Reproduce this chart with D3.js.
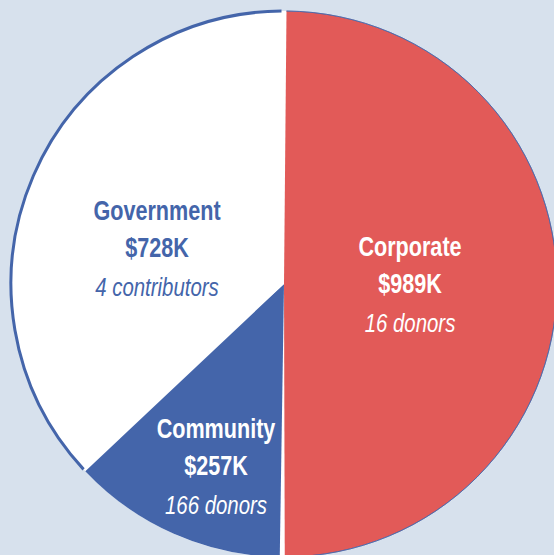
<!DOCTYPE html>
<html>
<head>
<meta charset="utf-8">
<script src="https://cdn.jsdelivr.net/npm/d3@7"></script>
<style>
  html, body { margin: 0; padding: 0; background: #d7e1ed; }
  svg { display: block; }
  text { font-family: "Liberation Sans", Arial, sans-serif; }
</style>
</head>
<body>
<svg id="chart" width="554" height="555"></svg>
<script>
// ---- data ----
const categories = ["Corporate", "Community", "Government"];
const amountsK = [989, 257, 728];
const contributorCounts = [16, 166, 4];
const contributorWords = ["donors", "donors", "contributors"];

// ---- styles ----
const fills = { Corporate: "#e25a58", Community: "#4465aa", Government: "#ffffff" };
const textColors = { Corporate: "#ffffff", Community: "#ffffff", Government: "#4465aa" };
// label anchor (centre of the first line's baseline) relative to pie centre
const labelOffsets = {
  Corporate: [126, -28],
  Community: [-68, 154],
  Government: [-127, -64]
};
const condense = 0.8;

const W = 554, H = 555;
const cx = 284, cy = 284, R = 273;
const gap = 5;

const svg = d3.select("#chart");
svg.append("rect").attr("width", W).attr("height", H).attr("fill", "#d7e1ed");

const g = svg.append("g").attr("transform", `translate(${cx},${cy})`);

const data = categories.map((c, i) => ({
  name: c, value: amountsK[i], count: contributorCounts[i], word: contributorWords[i]
}));

const pie = d3.pie().sort(null).value(d => d.value);
const arcs = pie(data);

// white base disc (shows through the gaps)
g.append("circle").attr("r", R).attr("fill", "#ffffff");

const arc = d3.arc().innerRadius(0).outerRadius(R).padAngle(gap / R).padRadius(R);

g.selectAll("path.slice").data(arcs).join("path")
  .attr("class", "slice")
  .attr("d", arc)
  .attr("fill", d => fills[d.data.name]);

// outline around the rim: thick on government, hairline on corporate
const rim = d3.arc().innerRadius(R).outerRadius(R);
arcs.forEach(a => {
  if (a.data.name === "Government") {
    g.append("path")
      .attr("d", rim({ startAngle: a.startAngle, endAngle: a.endAngle - gap / 2 / R }))
      .attr("fill", "none").attr("stroke", "#4465aa").attr("stroke-width", 3);
  } else if (a.data.name === "Corporate") {
    g.append("path")
      .attr("d", rim({ startAngle: a.startAngle + gap / 2 / R, endAngle: a.endAngle - gap / 2 / R }))
      .attr("fill", "none").attr("stroke", "#4465aa").attr("stroke-width", 1).attr("opacity", 0.7);
  }
});

// labels
arcs.forEach(a => {
  const d = a.data;
  const [ox, oy] = labelOffsets[d.name];
  const t = g.append("text")
    .attr("transform", `translate(${ox},${oy}) scale(${condense},1)`)
    .attr("text-anchor", "middle")
    .attr("fill", textColors[d.name]);
  t.append("tspan").attr("x", 0).attr("dy", 0)
    .attr("font-weight", "bold").attr("font-size", 27).text(d.name);
  t.append("tspan").attr("x", 0).attr("dy", 37)
    .attr("font-weight", "bold").attr("font-size", 27).text(`$${d.value}K`);
  t.append("tspan").attr("x", 0).attr("dy", 39)
    .attr("font-style", "italic").attr("font-size", 25.5).text(`${d.count} ${d.word}`);
});
</script>
</body>
</html>
